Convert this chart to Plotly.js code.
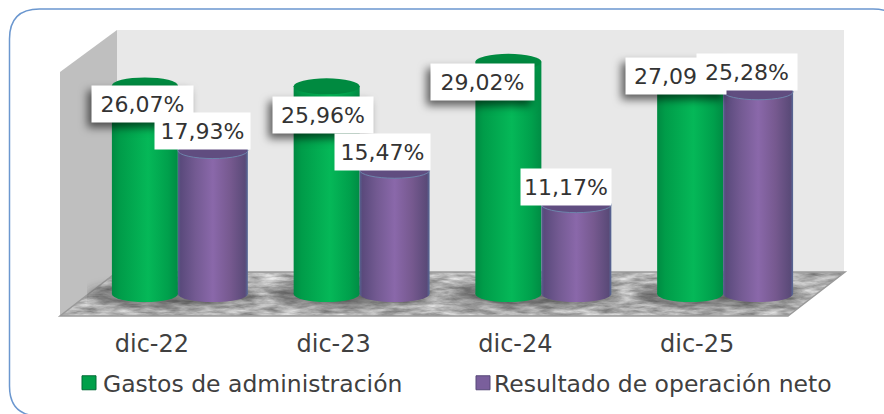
<!DOCTYPE html>
<html><head><meta charset="utf-8">
<script src="https://cdn.plot.ly/plotly-3.0.1.min.js"></script>
<style>html,body{margin:0;padding:0;background:#fff}#c{width:884px;height:414px}</style>
</head><body><div id="c"></div>
<script>
// ---- data ----
const categories = ['dic-22','dic-23','dic-24','dic-25'];
const gastos = [26.07,25.96,29.02,27.09];
const resultado = [17.93,15.47,11.17,25.28];
const seriesNames = ['Gastos de administración','Resultado de operación neto'];
const fmt = v => v.toFixed(2).replace('.',',')+'%';

// ---- layout helpers (pixels of the 884x414 page) ----
const W=884,H=414;
const px=x=>x/W, py=y=>1-y/H;
const UNIT=8, Y0=294, TOP=30, FRONT=316;
const yMin=-(FRONT-Y0)/UNIT, yMax=(Y0-TOP)/UNIT;
const greenOff=[-0.363,0.363], purpleOff=[0,0.385];
const capH=1; // ellipse half height in value units

const polyPath=pts=>'M'+pts.map(p=>px(p[0])+','+py(p[1])).join('L')+'Z';
const shapes=[];
const addS=s=>{shapes.push(s);return shapes.length-1;};
// card outline
const cx0=9.5,cy0=9,cx1=903,cy1=416,r=30;
addS({type:'path',xref:'paper',yref:'paper',layer:'below',
  path:`M${px(cx0+r)},${py(cy0)}L${px(cx1-r)},${py(cy0)}Q${px(cx1)},${py(cy0)} ${px(cx1)},${py(cy0+r)}L${px(cx1)},${py(cy1-r)}Q${px(cx1)},${py(cy1)} ${px(cx1-r)},${py(cy1)}L${px(cx0+r)},${py(cy1)}Q${px(cx0)},${py(cy1)} ${px(cx0)},${py(cy1-r)}L${px(cx0)},${py(cy0+r)}Q${px(cx0)},${py(cy0)} ${px(cx0+r)},${py(cy0)}Z`,
  line:{color:'#6b97cf',width:1.5},fillcolor:'rgba(255,255,255,0)'});
// walls
addS({type:'path',xref:'paper',yref:'paper',layer:'below',path:polyPath([[117,30],[844,30],[844,272],[117,272]]),fillcolor:'#e8e8e8',line:{width:0}});
addS({type:'path',xref:'paper',yref:'paper',layer:'below',path:polyPath([[60,72],[117,30],[117,272],[60,316]]),fillcolor:'#bfbfbf',line:{width:0}});
const floorIdx=addS({type:'path',xref:'paper',yref:'paper',layer:'below',path:polyPath([[60,316],[117,272],[845,272],[788,316]]),fillcolor:'#b4b4b4',line:{width:0}});
addS({type:'path',xref:'paper',yref:'paper',layer:'below',path:polyPath([[60,316],[788,316],[845,272],[117,272]]),fillcolor:'rgba(0,0,0,0)',line:{color:'#9a9a9a',width:1.5}});
// soft contact shadows on the floor
const shadowIdx=[];
categories.forEach((c,i)=>{shadowIdx.push(addS({type:'circle',xref:'x2',yref:'y',layer:'below',
  x0:i-0.5,x1:i+0.42,y0:-1.6,y1:1.4,fillcolor:'rgba(50,50,50,0.5)',line:{width:0}}));});
// cylinder caps, computed from the same values as the bars
const bottomG=[],bottomP=[];
categories.forEach((c,i)=>{
  bottomG.push(addS({type:'circle',xref:'x2',yref:'y',layer:'above',x0:i+greenOff[0],x1:i+greenOff[0]+greenOff[1],y0:-capH,y1:capH,fillcolor:'#00a04a',line:{width:0}}));
  addS({type:'circle',xref:'x2',yref:'y',layer:'above',x0:i+greenOff[0],x1:i+greenOff[0]+greenOff[1],y0:gastos[i]-capH,y1:gastos[i]+capH,fillcolor:'#008a40',line:{width:0}});
});
categories.forEach((c,i)=>{
  bottomP.push(addS({type:'circle',xref:'x2',yref:'y',layer:'above',x0:i+purpleOff[0],x1:i+purpleOff[0]+purpleOff[1],y0:-capH,y1:capH,fillcolor:'#7a5f9c',line:{width:0}}));
  addS({type:'circle',xref:'x2',yref:'y',layer:'above',x0:i+purpleOff[0],x1:i+purpleOff[0]+purpleOff[1],y0:resultado[i]-capH,y1:resultado[i]+capH,fillcolor:'#604d80',line:{color:'#6d84ab',width:1}});
});

// label placement, px offset from (group centre, value)
const lblG={dx:[-35.5,-36.7,-59.3,-47],dy:[-18.6,-28.2,-20.2,0.8],w:[101,100,103,100]};
const lblP={dx:[24.5,22.8,24.7,24],dy:[19.6,18,18,19.8],w:[95,95,90,100]};
const mk=(vals,l)=>vals.map((v,i)=>({xref:'x2',yref:'y',x:i,y:v,xshift:l.dx[i],yshift:l.dy[i],text:fmt(v),showarrow:false,
  bgcolor:'#ffffff',width:l.w[i],height:36,borderpad:0,align:'center',valign:'middle',
  font:{family:'DejaVu Sans',size:22,color:'#333333'}}));

const traces=[
 {type:'bar',name:seriesNames[0],x:[0,1,2,3],y:gastos,xaxis:'x2',yaxis:'y',width:-greenOff[0],offset:greenOff[0],marker:{color:'#00a04a'},hoverinfo:'skip'},
 {type:'bar',name:seriesNames[1],x:[0,1,2,3],y:resultado,xaxis:'x2',yaxis:'y',width:purpleOff[1],offset:0,marker:{color:'#7a5f9c'},hoverinfo:'skip'},
 // carrier that keeps the front-plane category axis on the page
 {type:'scatter',mode:'markers',x:[0,1,2,3],y:[0,0,0,0],xaxis:'x',yaxis:'y',marker:{opacity:0,size:1},showlegend:false,hoverinfo:'skip'}
];
const layout={width:W,height:H,margin:{l:0,r:0,t:0,b:0},paper_bgcolor:'#ffffff',plot_bgcolor:'rgba(0,0,0,0)',
 barmode:'overlay',showlegend:true,
 font:{family:'DejaVu Sans',color:'#404040'},
 xaxis:{domain:[px(61),px(788)],range:[-0.5,3.5],tickmode:'array',tickvals:[0,1,2,3],ticktext:categories,anchor:'y',
   showgrid:false,zeroline:false,showline:false,ticks:'',ticklabelstandoff:11,tickfont:{family:'DejaVu Sans',size:24,color:'#404040'},fixedrange:true},
 xaxis2:{domain:[px(87),px(814)],range:[-0.5,3.5],anchor:'y',visible:false,fixedrange:true},
 yaxis:{domain:[py(FRONT),py(TOP)],range:[yMin,yMax],visible:false,anchor:'x',fixedrange:true},
 legend:{orientation:'h',x:px(63),xanchor:'left',y:py(361),yanchor:'top',bgcolor:'rgba(0,0,0,0)',
   font:{family:'DejaVu Sans',size:23.5,color:'#404040'},entrywidth:346,entrywidthmode:'pixels',itemclick:false,itemdoubleclick:false},
 shapes:shapes,
 annotations:mk(gastos,lblG).concat(mk(resultado,lblP))
};
const NS='http://www.w3.org/2000/svg';
Plotly.newPlot('c',traces,layout,{displayModeBar:false,staticPlot:true}).then(gd=>{
  const svg=gd.querySelector('svg.main-svg');
  let defs=svg.querySelector('defs');
  const grad=(id,stops)=>{const g=document.createElementNS(NS,'linearGradient');g.id=id;
    g.setAttribute('x1','0');g.setAttribute('x2','1');g.setAttribute('y1','0');g.setAttribute('y2','0');
    stops.forEach(s=>{const e=document.createElementNS(NS,'stop');e.setAttribute('offset',s[0]);e.setAttribute('stop-color',s[1]);g.appendChild(e);});
    defs.appendChild(g);};
  grad('gGreen',[[0,'#008a42'],[0.12,'#009c49'],[0.55,'#05b858'],[0.85,'#00a04c'],[1,'#008c44']]);
  grad('gPurple',[[0,'#55608f'],[0.04,'#5a4a7c'],[0.25,'#735a92'],[0.5,'#8a68aa'],[0.75,'#76598f'],[0.96,'#5a4a78'],[1,'#566a98']]);
  defs.insertAdjacentHTML('beforeend',
   `<filter id="marble" x="0" y="0" width="100%" height="100%" color-interpolation-filters="sRGB">
      <feTurbulence type="fractalNoise" baseFrequency="0.05 0.22" numOctaves="4" seed="7" result="n"/>
      <feColorMatrix in="n" type="matrix" values="0.6 0 0 0 0.4  0.6 0 0 0 0.4  0.6 0 0 0 0.4  0 0 0 0 1" result="g"/>
      <feComposite in="g" in2="SourceAlpha" operator="in"/>
    </filter>
    <filter id="soft" x="-30%" y="-60%" width="160%" height="220%"><feGaussianBlur stdDeviation="5"/></filter>`);
  const shapeEl=i=>gd.querySelector(`path[data-index="${i}"]`);
  shapeEl(floorIdx).style.filter='url(#marble)';
  shadowIdx.forEach(i=>shapeEl(i).style.filter='url(#soft)');
  bottomG.forEach(i=>shapeEl(i).style.fill='url(#gGreen)');
  bottomP.forEach(i=>shapeEl(i).style.fill='url(#gPurple)');
  const tr=gd.querySelectorAll('.barlayer .trace');
  tr[0].querySelectorAll('path').forEach(p=>p.style.fill='url(#gGreen)');
  tr[1].querySelectorAll('path').forEach(p=>p.style.fill='url(#gPurple)');
  const ann=gd.querySelectorAll('.annotation');
  ann.forEach((a,i)=>{if(i<4){const b=a.querySelector('rect.bg');if(b)b.style.filter='drop-shadow(-4px 5px 4px rgba(0,0,0,0.6))';}});
  // legend swatches: slightly larger and nearer their text
  const sw=gd.querySelectorAll('.legend .legendpoints path');
  const strokes=['#006a35','#574878'], swatchX=[26,29];
  sw.forEach((p,i)=>{p.setAttribute('d','M7,7H-7V-7H7Z');p.setAttribute('transform','translate('+swatchX[i]+',0)');p.style.stroke=strokes[i];p.style.strokeWidth='1px';});
});
</script></body></html>
